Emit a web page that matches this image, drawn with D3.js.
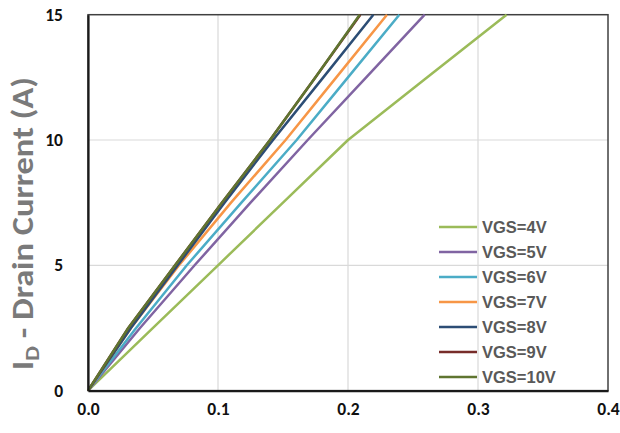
<!DOCTYPE html>
<html><head><meta charset="utf-8">
<script src="https://cdn.jsdelivr.net/npm/d3@7"></script>
<style>
html,body{margin:0;padding:0;background:#fff;}
svg{display:block;}
</style></head>
<body>
<svg id="chart" width="620" height="433"></svg>
<script>
// ---- data ----
const currents = [0, 2.5, 5, 7.5, 10, 12.5, 15];           // I_D (A)
const seriesNames = ["VGS=4V","VGS=5V","VGS=6V","VGS=7V","VGS=8V","VGS=9V","VGS=10V"];
const seriesColors = ["#9BBB59","#8064A2","#4BACC6","#F79646","#2C4D75","#772C2A","#5F7530"];
const vds4V  = [0, 0.050, 0.100, 0.150, 0.200, 0.261, 0.322];
const vds5V  = [0, 0.040, 0.082, 0.125, 0.169, 0.214, 0.259];
const vds6V  = [0, 0.037, 0.076, 0.118, 0.1605, 0.200, 0.2395];
const vds7V  = [0, 0.033, 0.070, 0.110, 0.152, 0.191, 0.230];
const vds8V  = [0, 0.033, 0.069, 0.105, 0.1423, 0.181, 0.2195];
const vds9V  = [0, 0.031, 0.067, 0.103, 0.140, 0.175, 0.2095];
const vds10V = [0, 0.031, 0.067, 0.103, 0.140, 0.175, 0.209];
const xTicks = [0, 0.1, 0.2, 0.3, 0.4];
const yTicks = [0, 5, 10, 15];
const yTitle = "I", yTitleSub = "D", yTitleRest = " - Drain Current (A)";

const vdsList = [vds4V, vds5V, vds6V, vds7V, vds8V, vds9V, vds10V];
const series = seriesNames.map((n,i)=>({name:n, color:seriesColors[i],
  pts: vdsList[i].map((v,j)=>[v, currents[j]])}));

// ---- layout ----
const svg = d3.select("#chart");
const L = 88, R = 608, T = 14.7, B = 390.6;
const x = d3.scaleLinear().domain([0,0.4]).range([L,R]);
const y = d3.scaleLinear().domain([0,15]).range([B,T]);
const tickFont = "Carlito, Calibri, Lato, sans-serif";

// gridlines
svg.append("g").selectAll("line.gx").data(xTicks.slice(1,-1)).join("line")
  .attr("x1",d=>x(d)).attr("x2",d=>x(d)).attr("y1",T).attr("y2",B)
  .attr("stroke","#d9d9d9").attr("stroke-width",1.2);
svg.append("g").selectAll("line.gy").data(yTicks.slice(1,-1)).join("line")
  .attr("y1",d=>y(d)).attr("y2",d=>y(d)).attr("x1",L).attr("x2",R)
  .attr("stroke","#d9d9d9").attr("stroke-width",1.2);

// plot border
svg.append("rect").attr("x",L).attr("y",T).attr("width",R-L).attr("height",B-T)
  .attr("fill","none").attr("stroke","#404040").attr("stroke-width",1.5);

// lines
const line = d3.line().x(d=>x(d[0])).y(d=>y(d[1]));
svg.append("g").selectAll("path").data(series).join("path")
  .attr("d",d=>line(d.pts)).attr("fill","none")
  .attr("stroke",d=>d.color).attr("stroke-width",2.5).attr("stroke-linejoin","round");

// axes (black, no ticks)
const xAxis = d3.axisBottom(x).tickValues(xTicks).tickFormat(d3.format(".1f")).tickSize(0).tickPadding(12);
const gx = svg.append("g").attr("transform",`translate(0,${B})`).call(xAxis);
const yAxis = d3.axisLeft(y).tickValues(yTicks).tickFormat(d3.format("d")).tickSize(0).tickPadding(25);
const gy = svg.append("g").attr("transform",`translate(${L},0)`).call(yAxis);
[gx,gy].forEach(g=>{
  g.select(".domain").attr("stroke","#1a1a1a").attr("stroke-width",2.2);
  g.selectAll("text").attr("font-family",tickFont).attr("font-weight","bold")
   .attr("font-size",17.5).attr("fill","#111");
});

// y title
const yt = svg.append("text").attr("transform","translate(33,223.5) rotate(-90)")
  .attr("text-anchor","middle").attr("font-family",tickFont).attr("font-weight","bold")
  .attr("font-size",31).attr("fill","#7a7a7a")
  .attr("textLength",293).attr("lengthAdjust","spacingAndGlyphs");
yt.append("tspan").text(yTitle);
yt.append("tspan").attr("font-size",21).attr("dy",6).text(yTitleSub);
yt.append("tspan").attr("dy",-6).text(yTitleRest);

// legend
const lg = svg.append("g").selectAll("g").data(series).join("g")
  .attr("transform",(d,i)=>`translate(439,${227+25*i})`);
lg.append("line").attr("x1",0).attr("x2",38).attr("stroke",d=>d.color).attr("stroke-width",2.6);
lg.append("text").attr("x",43).attr("dy","0.36em").text(d=>d.name)
  .attr("font-family","Liberation Sans, Arial, sans-serif").attr("font-weight","bold")
  .attr("font-size",16.5).attr("fill","#595959");
</script>
</body></html>
